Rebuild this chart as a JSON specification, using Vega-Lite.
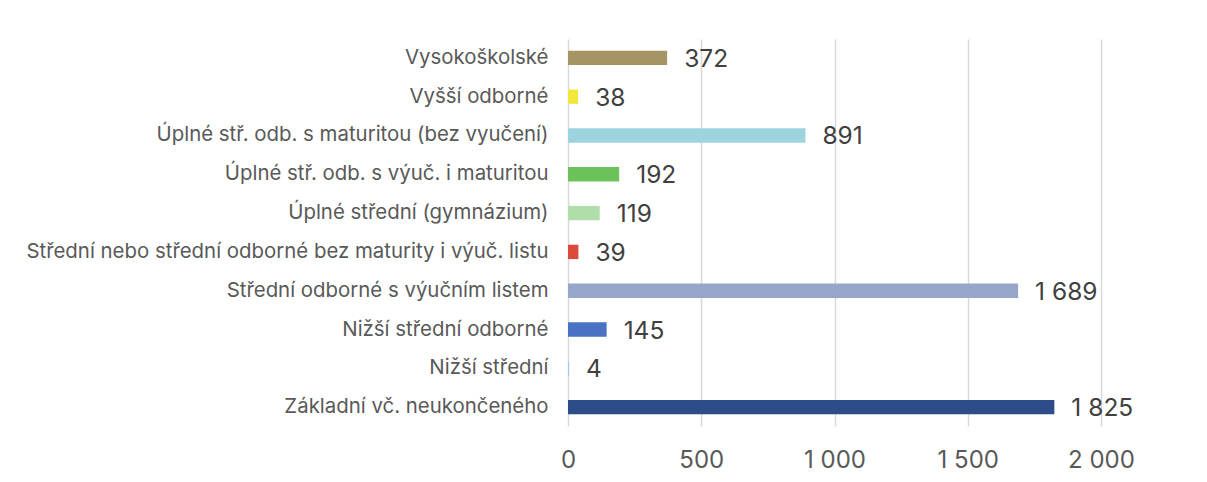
{
  "$schema": "https://vega.github.io/schema/vega-lite/v6.json",
  "width": 533,
  "height": 387,
  "autosize": "none",
  "padding": {"left": 568, "top": 39, "right": 106, "bottom": 56},
  "config": {
    "font": "Inter",
    "view": {"stroke": null},
    "locale": {"number": {"decimal": ",", "thousands": " ", "grouping": [3], "currency": ["", " Kč"]}}
  },
  "data": {
    "values": [
      {"kategorie": "Vysokoškolské", "pocet": 372, "barva": "#a69563"},
      {"kategorie": "Vyšší odborné", "pocet": 38, "barva": "#f0e83c"},
      {"kategorie": "Úplné stř. odb. s maturitou (bez vyučení)", "pocet": 891, "barva": "#9dd3dd"},
      {"kategorie": "Úplné stř. odb. s výuč. i maturitou", "pocet": 192, "barva": "#6bc15a"},
      {"kategorie": "Úplné střední (gymnázium)", "pocet": 119, "barva": "#b0dea8"},
      {"kategorie": "Střední nebo střední odborné bez maturity i výuč. listu", "pocet": 39, "barva": "#db4a3d"},
      {"kategorie": "Střední odborné s výučním listem", "pocet": 1689, "barva": "#95a6c9"},
      {"kategorie": "Nižší střední odborné", "pocet": 145, "barva": "#4a72c4"},
      {"kategorie": "Nižší střední", "pocet": 4, "barva": "#a8c7e8"},
      {"kategorie": "Základní vč. neukončeného", "pocet": 1825, "barva": "#2d4d8a"}
    ]
  },
  "encoding": {
    "y": {
      "field": "kategorie",
      "type": "nominal",
      "sort": null,
      "title": null,
      "scale": {"paddingInner": 0.63, "paddingOuter": 0.3},
      "axis": {
        "domain": false,
        "ticks": false,
        "labelPadding": 20,
        "labelFontSize": 20.4,
        "labelColor": "#595959",
        "labelLimit": 600
      }
    }
  },
  "layer": [
    {
      "mark": {"type": "bar"},
      "encoding": {
        "x": {
          "field": "pocet",
          "type": "quantitative",
          "title": null,
          "scale": {"domain": [0, 2000], "nice": false},
          "axis": {
            "values": [0, 500, 1000, 1500, 2000],
            "format": ",d",
            "domain": false,
            "ticks": false,
            "grid": true,
            "gridColor": "#d9d9d9",
            "gridWidth": 1.5,
            "labelFlush": false,
            "labelPadding": 22,
            "labelFontSize": 24,
            "labelColor": "#595959"
          }
        },
        "color": {"field": "barva", "type": "nominal", "scale": null, "legend": null}
      }
    },
    {
      "mark": {"type": "text", "align": "left", "baseline": "middle", "dx": 17, "dy": 2, "fontSize": 24.5, "color": "#404040"},
      "encoding": {
        "x": {"field": "pocet", "type": "quantitative"},
        "text": {"field": "pocet", "type": "quantitative", "format": ",d"}
      }
    }
  ]
}
